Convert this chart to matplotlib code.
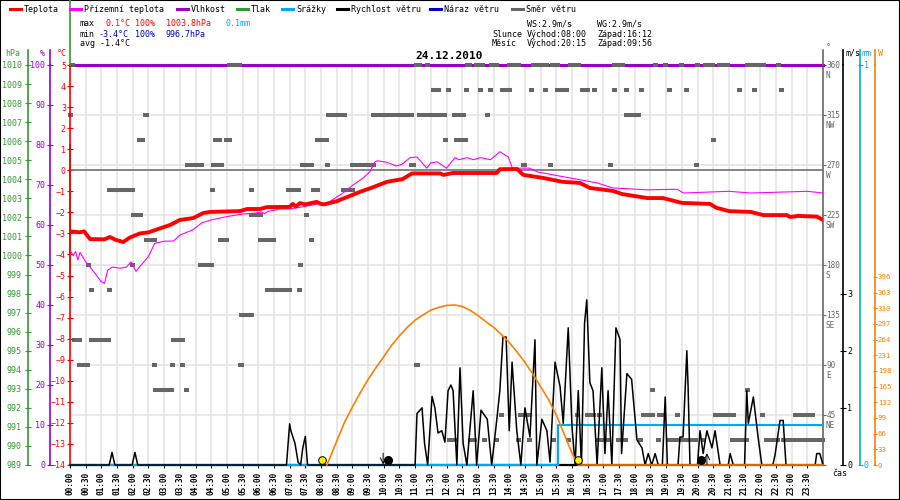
import matplotlib
matplotlib.use("Agg")
import matplotlib.pyplot as plt
from matplotlib.lines import Line2D
from matplotlib.patches import Rectangle

plt.rcParams['font.family'] = ['DejaVu Sans Mono', 'DejaVu Sans']

# data, time in hours
temp_t = [0, 0.3, 0.45, 0.55, 0.64, 1.1, 1.27, 1.45, 1.7, 1.9, 2.23, 2.5, 2.87, 3.19, 3.5,
          3.93, 4.25, 4.46, 5.42, 5.64, 6.06, 6.27, 7.0, 7.1, 7.2, 7.33, 7.5, 7.86, 8.0, 8.1,
          8.5, 8.92, 9.25, 9.67, 10.1, 10.6, 10.9, 11.8, 11.9, 12.2, 13.6, 13.7, 14.25, 14.45,
          15.1, 15.7, 16.25, 16.57, 17.3, 17.6, 18.4, 18.9, 19.5, 20.4, 20.6, 21.0, 21.7, 22.1,
          22.85, 22.95, 23.2, 23.8, 24.0]
temp_v = [-2.9, -2.95, -2.9, -3.1, -3.27, -3.28, -3.17, -3.3, -3.41, -3.2, -3.0, -2.95, -2.76,
          -2.6, -2.36, -2.27, -2.03, -1.98, -1.94, -1.84, -1.84, -1.75, -1.74, -1.6, -1.72,
          -1.56, -1.62, -1.5, -1.6, -1.62, -1.47, -1.22, -1.02, -0.8, -0.55, -0.42, -0.15,
          -0.15, -0.22, -0.13, -0.13, 0.05, 0.06, -0.22, -0.37, -0.55, -0.6, -0.84, -0.98,
          -1.13, -1.32, -1.32, -1.55, -1.6, -1.78, -1.94, -1.98, -2.13, -2.13, -2.22, -2.17,
          -2.2, -2.36]

feel_t = [0, 0.1, 0.18, 0.25, 0.32, 0.5, 0.8, 1.0, 1.1, 1.2, 1.35, 1.6, 1.8, 1.95, 2.1, 2.5,
          2.7, 3.0, 3.3, 3.5, 3.9, 4.2, 4.5, 5.0, 5.5, 5.9, 6.1, 6.2, 6.3, 6.7, 7.0, 7.4, 7.9,
          8.2, 8.5, 8.7, 9.02, 9.34, 9.56, 9.72, 9.8, 10.1, 10.4, 10.6, 10.84, 11.06, 11.37,
          11.5, 11.7, 12.0, 12.27, 12.4, 12.65, 12.85, 13.1, 13.4, 13.7, 13.97, 14.1, 14.65,
          14.9, 15.7, 16.8, 17.3, 18.4, 19.35, 19.55, 21.0, 21.7, 23.5, 24.0]
feel_v = [-3.8, -4.05, -3.85, -4.26, -3.9, -4.35, -4.9, -5.3, -5.37, -4.75, -4.6, -4.65, -4.6,
          -4.35, -4.8, -4.1, -3.47, -3.37, -3.36, -3.08, -2.84, -2.5, -2.36, -2.2, -2.08,
          -2.04, -1.98, -2.06, -1.96, -1.84, -1.84, -1.74, -1.6, -1.57, -1.27, -1.08, -0.7,
          -0.37, -0.07, 0.4, 0.45, 0.38, 0.2, 0.3, 0.6, 0.63, 0.1, 0.35, 0.4, 0.1, 0.6, 0.5,
          0.6, 0.5, 0.6, 0.5, 0.88, 0.63, 0.1, 0.1, -0.08, -0.3, -0.6, -0.84, -0.93, -0.9,
          -1.08, -1.0, -1.08, -1.0, -1.08]

hum_t = [0, 24]
hum_v = [100, 100]

press_t = [0, 0]
press_v = [1005.8, 998.2]

rain_t = [0, 15.56, 15.56, 24]
rain_v = [0, 0, 0.1, 0.1]

wind_t = [0, 1.25, 1.34, 1.43, 1.98, 2.07, 2.16, 6.9, 7.0, 7.04, 7.17, 7.27, 7.35, 7.42, 7.5,
          7.57, 11.0, 11.06, 11.22, 11.3, 11.4, 11.54, 11.63, 11.73, 11.85, 11.95, 12.05,
          12.14, 12.21, 12.33, 12.43, 12.53, 12.65, 12.85, 12.96, 13.1, 13.3, 13.44, 13.6,
          13.7, 13.8, 13.9, 14.0, 14.09, 14.24, 14.37, 14.5, 14.66, 14.82, 14.88, 15.04, 15.2,
          15.3, 15.46, 15.62, 15.72, 15.88, 16.0, 16.1, 16.2, 16.3, 16.4, 16.47, 16.57, 16.67,
          16.8, 16.95, 17.05, 17.15, 17.27, 17.4, 17.53, 17.58, 17.75, 17.9, 18.07, 18.23,
          18.33, 18.43, 18.54, 18.65, 18.75, 18.88, 18.97, 19.04, 19.38, 19.44, 19.54, 19.66,
          19.7, 19.76, 20.0, 20.08, 20.18, 20.3, 20.46, 20.56, 20.72, 20.98, 21.04, 21.14,
          21.5, 21.57, 21.62, 21.78, 21.93, 22.05, 22.4, 22.47, 22.63, 22.73, 22.82, 23.75,
          23.8, 23.9, 24.0]
wind_v = [0, 0, 0.22, 0, 0, 0.22, 0, 0, 0.72, 0.6, 0.38, 0.05, 0, 0.3, 0.5,
          0, 0, 0.9, 1.0, 0.38, 0, 1.2, 1.0, 0.56, 0.6, 0.4, 1.3,
          1.4, 1.3, 0, 1.7, 0.38, 0, 1.3, 0, 0.96, 0.8, 0, 0.78,
          1.3, 2.24, 2.24, 0.6, 1.8, 0.6, 0, 1.0, 0.49, 2.19, 0, 0.8, 0.6,
          0.05, 1.8, 1.37, 0.73, 2.4, 0.67, 0, 1.3, 0, 2.48, 2.89, 1.44, 1.3,
          0, 1.7, 0.2, 1.3, 0, 2.4, 2.2, 0.2, 1.6, 1.5, 0.44, 0.3,
          0, 0.2, 0, 0.2, 0, 0, 1.19, 0, 0, 0.49, 0.49, 2.0,
          1.37, 0, 0, 0.6, 0.2, 0.6, 0.3, 0.6, 0, 0, 0.2, 0,
          0, 1.3, 0.73, 1.19, 0.49, 0, 0, 0.17, 0.78, 0.78, 0, 0,
          0.2, 0.2, 0]

sun_t = [8.19, 8.5, 8.75, 9.0, 9.25, 9.5, 9.75, 10.0, 10.25, 10.5, 10.75, 11.0, 11.25, 11.5,
         11.75, 12.0, 12.25, 12.5, 12.75, 13.0, 13.25, 13.5, 13.75, 14.0, 14.25, 14.5, 14.75,
         15.0, 15.25, 15.5, 15.75, 16.0, 16.2, 24.0]
sun_v = [0, 50, 90, 122, 152, 180, 205, 228, 252, 272, 290, 305, 316, 326, 332, 336, 337,
         334, 326, 315, 302, 290, 275, 258, 238, 216, 192, 165, 138, 105, 65, 25, 0, 0]

sun_events = [8.03, 16.2]
moon_events = [10.12, 20.1]
moon_set_t = 9.98
moon_rise_t = 20.3

# wind direction samples: runs of equal direction
dir_deg = ([360] * 20 + [337.5] * 20 + [315] * 9 + [292.5] * 7 + [270] * 10 + [247.5] * 6
           + [225] * 3 + [202.5] * 5 + [180] * 4 + [157.5] * 5 + [135] * 1 + [112.5] * 3
           + [90] * 6 + [67.5] * 4 + [45] * 13 + [22.5] * 20)
dir_start = [0.08, 5.07, 11.06, 11.38, 12.68, 12.97, 13.45, 14.02, 14.76, 15.39, 15.94, 17.37,
             18.65, 18.97, 19.5, 20.0, 20.25, 20.7, 21.6, 22.58,
             11.6, 11.75, 12.05, 12.65, 13.07, 13.39, 13.77, 14.72, 15.14, 15.55, 16.35, 16.73,
             17.34, 17.75, 18.23, 19.1, 19.66, 21.35, 21.83, 22.69,
             0.03, 2.4, 8.23, 9.66, 11.15, 11.7, 12.24, 13.32, 17.75,
             2.2, 4.65, 5.0, 7.9, 11.98, 12.33, 20.5,
             3.73, 4.56, 7.4, 8.2, 9.0, 10.9, 14.47, 15.33, 17.24, 19.98,
             1.27, 4.53, 5.8, 6.98, 7.75, 8.73,
             2.04, 5.8, 7.55,
             2.45, 4.8, 6.06, 6.32, 7.7,
             0.6, 2.0, 4.15, 7.36,
             0.67, 1.27, 6.28, 6.47, 7.3,
             5.48,
             0.13, 0.7, 3.3,
             0.29, 2.68, 3.28, 3.6, 5.45, 11.06,
             2.74, 3.7, 18.58, 21.58,
             13.74, 14.37, 16.16, 16.5, 16.87, 18.27, 18.8, 19.35, 20.56, 20.94, 22.08, 23.11,
             23.68,
             12.08, 12.75, 13.2, 13.6, 14.28, 14.63, 15.4, 15.88, 16.8, 17.47, 18.17, 18.75,
             19.12, 19.76, 20.18, 21.1, 22.2, 22.73, 23.27, 23.74]
dir_end = [0.08, 5.39, 11.15, 11.38, 12.72, 13.16, 13.58, 14.28, 15.2, 15.55, 16.2, 17.6,
           18.65, 18.97, 19.5, 20.0, 20.47, 20.95, 22.1, 22.58,
           11.6, 11.75, 12.05, 12.65, 13.07, 13.39, 14.0, 14.72, 15.14, 15.83, 16.5, 16.73,
           17.34, 17.75, 18.23, 19.1, 19.66, 21.35, 21.83, 22.69,
           0.03, 2.45, 8.76, 10.87, 11.63, 11.95, 12.53, 13.32, 18.13,
           2.3, 4.75, 5.07, 8.19, 11.98, 12.59, 20.5,
           4.18, 4.84, 7.7, 8.2, 9.66, 10.95, 14.47, 15.33, 17.24, 19.98,
           1.98, 4.53, 5.8, 7.27, 7.9, 9.0,
           2.26, 6.08, 7.55,
           2.68, 5.0, 6.27, 6.47, 7.7,
           0.6, 2.0, 4.5, 7.36,
           0.67, 1.27, 6.28, 7.0, 7.3,
           5.77,
           0.3, 1.24, 3.6,
           0.57, 2.68, 3.28, 3.6, 5.45, 11.06,
           3.25, 3.7, 18.58, 21.58,
           13.74, 14.6, 16.16, 16.67, 16.87, 18.55, 18.9, 19.35, 20.78, 21.14, 22.08, 23.49,
           23.68,
           12.27, 12.9, 13.2, 13.6, 14.28, 14.63, 15.4, 15.88, 17.15, 17.7, 18.17, 18.75,
           19.6, 19.95, 20.18, 21.57, 22.54, 23.11, 23.59, 23.97]

dir_ticks = [45, 90, 135, 180, 225, 270, 315, 360]
dir_names = ['NE', 'E', 'SE', 'S', 'SW', 'W', 'NW', 'N']
hour_ticks = [h / 2 for h in range(48)]
hour_labels = ['%02d:%02d' % (int(h), 30 if h % 1 else 0) for h in hour_ticks]

RED = '#ff0000'
MAG = '#ff00ff'
PUR = '#9900cc'
GRN = '#339933'
CYA = '#00aaee'
ORG = '#ff8000'
GRY = '#666666'
GRID = '#e8e4e4'

W, H = 900, 500
fig = plt.figure(figsize=(9, 5), dpi=100)


def px(x, y):
    return x / W, 1 - y / H


def pt(p):
    return p * 72 / 100


L, R, T, B = 70, 823, 65, 465
ax = fig.add_axes([L / W, 1 - B / H, (R - L) / W, (B - T) / H])


def twin(side, offset, color, lim):
    a = ax.twinx()
    for s in a.spines.values():
        s.set_visible(False)
    a.set_ylim(*lim)
    if side == 'left':
        a.yaxis.tick_left()
    else:
        a.yaxis.tick_right()
    if side is not None:
        a.spines[side].set_visible(True)
        a.spines[side].set_position(('outward', pt(offset)))
        a.spines[side].set_color(color)
        a.spines[side].set_linewidth(1.2)
    else:
        a.set_yticks([])
    return a


# base axes: wind direction scale + grid
ax.set_xlim(0, 24)
ax.set_ylim(0, 360)
ax.set_xticks(hour_ticks)
ax.set_xticklabels(hour_labels, rotation=90, fontsize=5.6, fontweight='bold')
ax.tick_params(axis='x', length=2, pad=3)
ax.set_yticks([0] + dir_ticks)
ax.set_yticklabels([''] + [str(d) for d in dir_ticks], fontsize=5.6, color=GRY)
ax.grid(True, color=GRID, lw=1.2)
for s in ['top', 'left']:
    ax.spines[s].set_visible(False)
ax.spines['right'].set_color(GRY)
ax.spines['right'].set_linewidth(1.2)
ax.spines['bottom'].set_color('black')
ax.spines['bottom'].set_linewidth(1.6)
for d, n in zip(dir_ticks, dir_names):
    ax.annotate(n, xy=(1, d), xycoords=ax.get_yaxis_transform(), xytext=(3, -10),
                textcoords='offset pixels', fontsize=5.6, color=GRY, va='center', ha='left')

ax_p = twin('left', 42, GRN, (989, 1010))
ax_p.set_yticks(range(989, 1011))
ax_p.tick_params(axis='y', direction='inout', length=4.3, colors=GRN, labelsize=6, pad=2.2)

ax_h = twin('left', 20, PUR, (0, 100))
ax_h.set_yticks(range(0, 101, 10))
ax_h.tick_params(axis='y', direction='inout', length=4.3, colors=PUR, labelsize=6, pad=1.4)
ax_h.plot(hum_t, hum_v, color=PUR, lw=2.2, clip_on=False)

ax_d = twin(None, 0, GRY, (0, 360))
ax_d.hlines(dir_deg, [s - 0.08 for s in dir_start], [e + 0.08 for e in dir_end],
            color=GRY, lw=2.9, clip_on=False)

ax_t = twin('left', 0, RED, (-14, 5))
ax_t.set_yticks(range(-14, 6))
ax_t.tick_params(axis='y', direction='inout', length=4.3, colors=RED, labelsize=6, pad=0.8)
ax_t.axhline(0, color='#707070', lw=1.2)
ax_p.plot(press_t, press_v, color=GRN, lw=1.5, clip_on=False)
ax_t.plot(feel_t, feel_v, color=MAG, lw=0.8)
ax_t.plot(temp_t, temp_v, color=RED, lw=2.8)

ax_mm = twin('right', 37, CYA, (0, 1))
ax_mm.set_yticks([0, 1])
ax_mm.tick_params(axis='y', direction='inout', length=3.6, colors=CYA, labelsize=6, pad=1)
ax_mm.plot(rain_t, rain_v, color=CYA, lw=1.5, clip_on=False)

ax_ws = twin('right', 20, 'black', (0, 7))
ax_ws.set_yticks([0, 1, 2, 3])
ax_ws.tick_params(axis='y', direction='inout', length=4.3, colors='black', labelsize=6, pad=0.8)
ax_ws.plot(wind_t, wind_v, color='black', lw=1.1, clip_on=False)

ax_s = twin('right', 52, ORG, (0, 842.4))
ax_s.set_yticks(range(0, 397, 33))
ax_s.tick_params(axis='y', direction='inout', length=3, colors=ORG, labelsize=5.3, pad=0.6)
ax_s.plot(sun_t, sun_v, color=ORG, lw=1.2, clip_on=False)
ax_s.plot(sun_events, [10.5, 10.5], 'o', ms=5.5, mfc='#ffee00', mec='black', mew=0.7,
          clip_on=False)
ax_s.plot(moon_events, [10.5, 10.5], 'o', ms=5.5, mfc='black', mec='black', clip_on=False)
ax_s.annotate('', xy=(moon_set_t, 1), xytext=(moon_set_t, 25),
              arrowprops=dict(arrowstyle='->', lw=0.7, color='black', shrinkA=0, shrinkB=0))
ax_s.annotate('', xy=(moon_rise_t, 25), xytext=(moon_rise_t, 1),
              arrowprops=dict(arrowstyle='->', lw=0.7, color='black', shrinkA=0, shrinkB=0))

# twinx moved the base ticks to the left, put the direction scale back on the right
ax.yaxis.tick_right()
ax.tick_params(axis='y', direction='out', length=2, pad=0.5, colors=GRY,
               left=False, labelleft=False, right=True, labelright=True)

# spine stubs above the plot and the units above them
for x, c in [(28, GRN), (50, PUR), (823, GRY), (843, 'black'), (860, CYA), (875, ORG)]:
    fig.add_artist(Line2D([x / W, x / W], [1 - 50 / H, 1 - 65 / H], color=c, lw=1.2))
fig.add_artist(Line2D([L / W, L / W], [1, 1 - 65 / H], color=GRN, lw=1.2))
for x, s, c in [(13, 'hPa', GRN), (42, '%', PUR), (62, '°C', RED), (853, 'm/s', 'black'),
                (867, 'mm', CYA), (880, 'W', ORG)]:
    fig.text(*px(x, 53), s, color=c, fontsize=6, ha='center', va='center')
fig.text(*px(828, 48), '°', color=GRY, fontsize=6, ha='center', va='center')
fig.text(*px(840, 474), 'čas', color='black', fontsize=6, ha='center', va='center')

# legend row
legend = [('Teplota', RED, 8), ('Přízemní teplota', MAG, 68), ('Vlhkost', PUR, 175),
          ('Tlak', GRN, 235), ('Srážky', CYA, 280), ('Rychlost větru', 'black', 335),
          ('Náraz větru', '#0000cc', 428), ('Směr větru', GRY, 510)]
for name, c, x in legend:
    fig.add_artist(Line2D([(x + 2) / W, (x + 13) / W], [1 - 9 / H] * 2, color=c, lw=2.2))
    fig.text(*px(x + 16, 9), name, fontsize=6, ha='left', va='center')

# summary text
info = [(80, 24, 'max', 'black'), (106, 24, '0.1°C', RED), (135, 24, '100%', RED),
        (166, 24, '1003.8hPa', RED), (226, 24, '0.1mm', CYA),
        (80, 34, 'min', 'black'), (99, 34, '-3.4°C', '#0000cc'), (135, 34, '100%', '#0000cc'),
        (165, 34, '996.7hPa', '#0000cc'), (80, 44, 'avg -1.4°C', 'black'),
        (527, 24, 'WS:2.9m/s', 'black'), (597, 24, 'WG:2.9m/s', 'black'),
        (492, 34, 'Slunce', 'black'), (527, 34, 'Východ:08:00', 'black'),
        (597, 34, 'Západ:16:12', 'black'),
        (492, 44, 'Měsíc', 'black'), (527, 44, 'Východ:20:15', 'black'),
        (597, 44, 'Západ:09:56', 'black')]
for x, y, s, c in info:
    fig.text(*px(x, y), s, color=c, fontsize=6, ha='left', va='center')

fig.text(*px(449, 56), '24.12.2010', fontsize=8, fontweight='bold', ha='center', va='center')

fig.add_artist(Rectangle((0, 0), 1, 1, transform=fig.transFigure, fill=False,
                         ec='black', lw=1.5))

fig.savefig('out.png', dpi=100)
